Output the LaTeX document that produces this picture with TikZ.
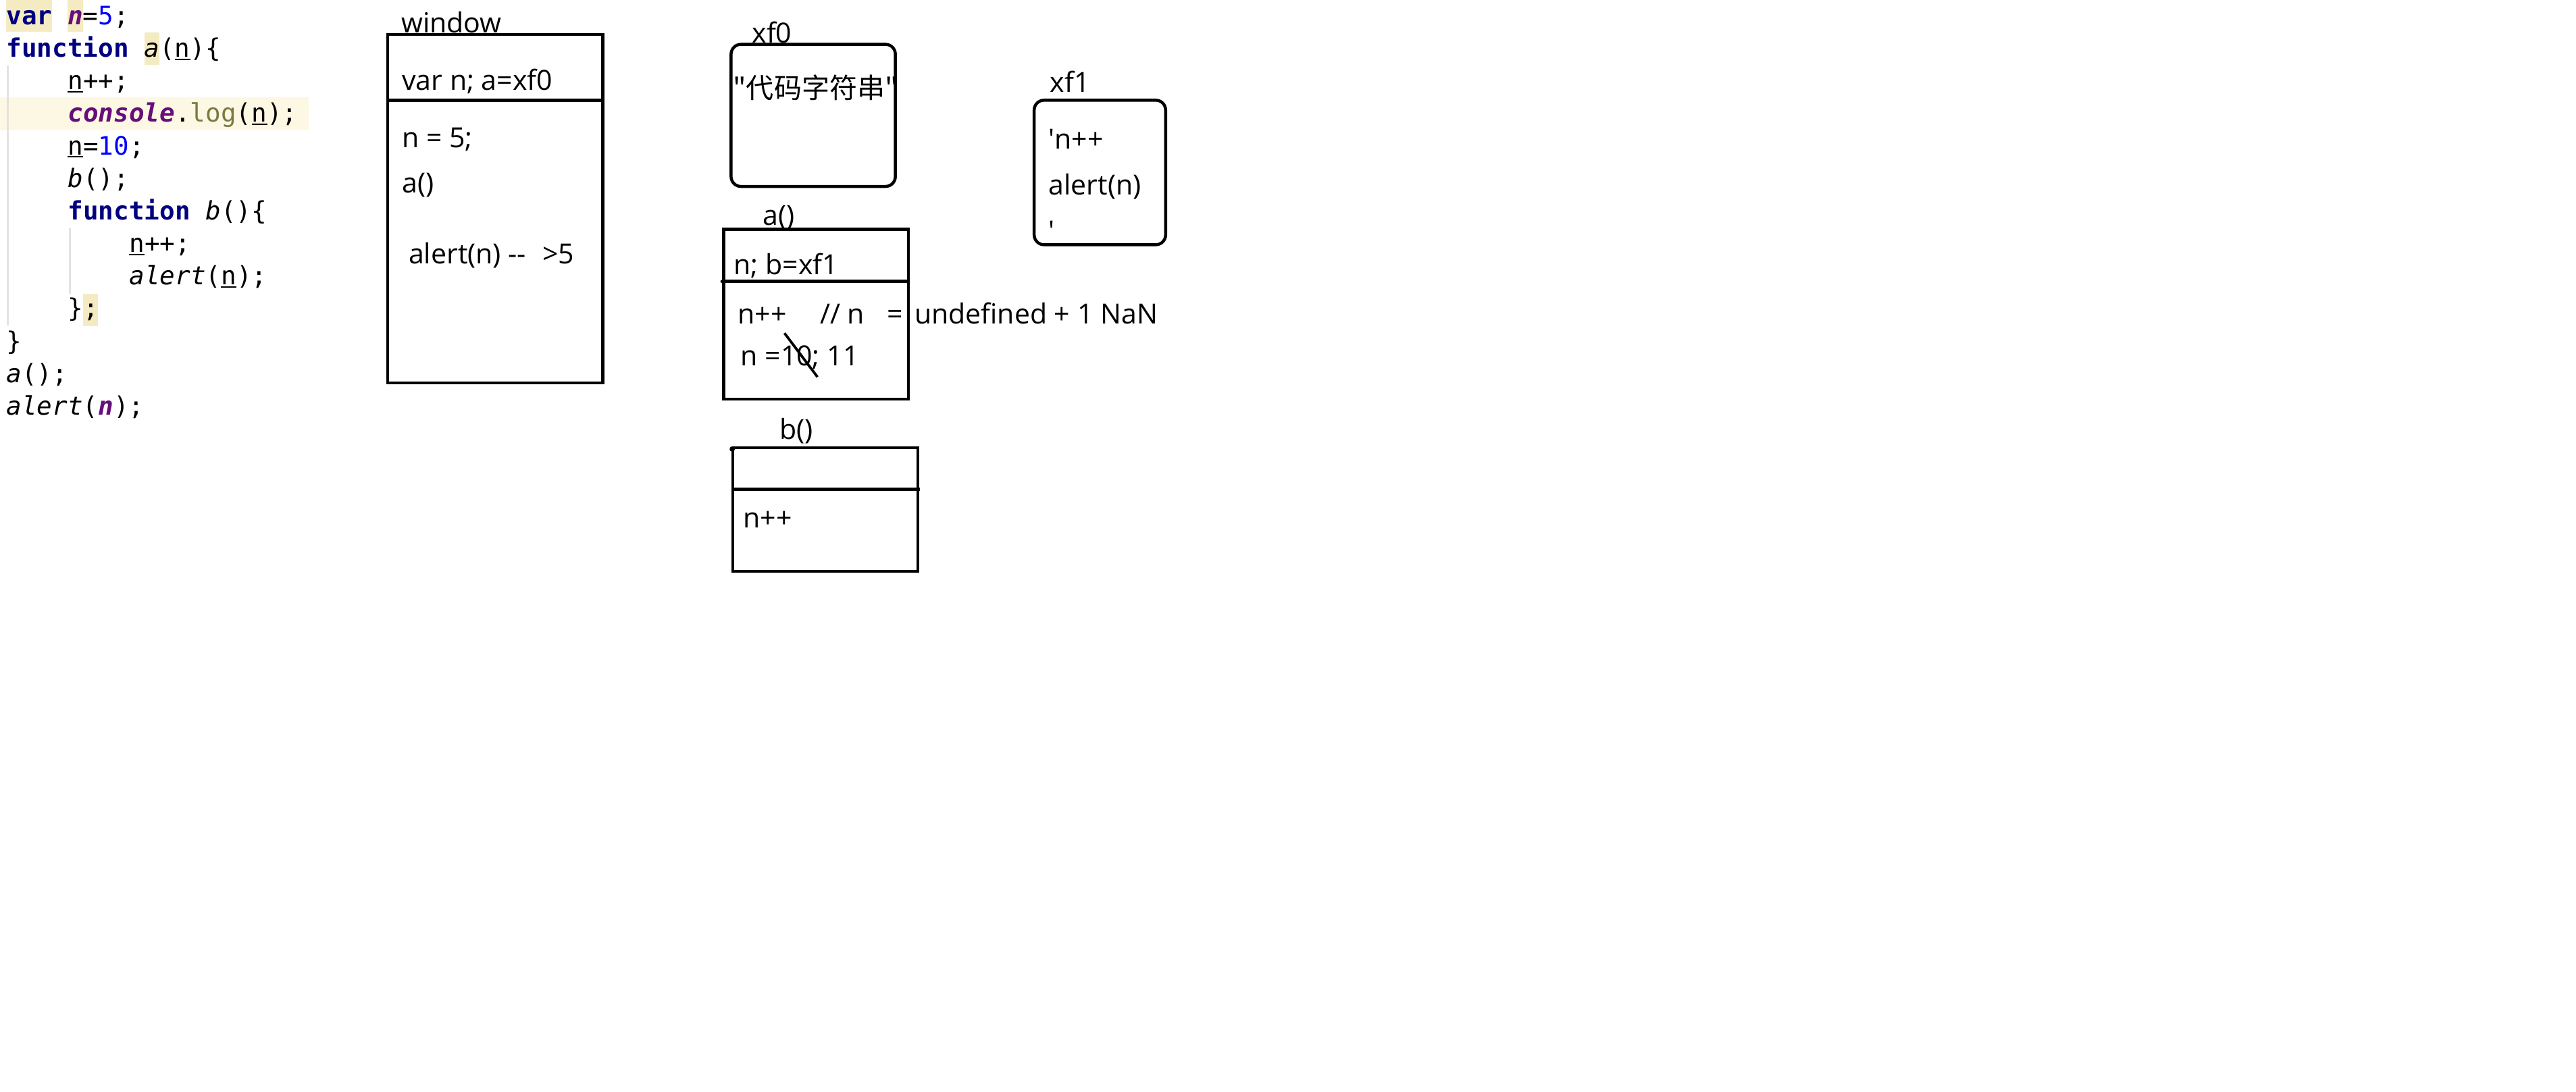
\documentclass[tikz,border=0pt]{standalone}
\usepackage{fontspec}
\setmainfont{Open Sans}
\newfontfamily\cjk{Noto Sans CJK SC}
\newfontfamily\codefont{DejaVu Sans Mono}
\usetikzlibrary{positioning}
\definecolor{KwNavy}{HTML}{000080}
\definecolor{VarPurple}{HTML}{660E7A}
\definecolor{NumBlue}{HTML}{0000FF}
\definecolor{LogOlive}{HTML}{7A7A43}
\definecolor{TokHl}{HTML}{F5EBC3}
\definecolor{LineHl}{HTML}{FDF8E3}
\definecolor{GuideGray}{HTML}{E2E2E2}
\newcommand{\kw}[1]{\textcolor{KwNavy}{\bfseries #1}}
\newcommand{\gvar}[1]{\textcolor{VarPurple}{\bfseries\itshape #1}}
\newcommand{\numc}[1]{\textcolor{NumBlue}{#1}}
\newcommand{\fnm}[1]{\textit{#1}}
\newcommand{\logfn}[1]{\textcolor{LogOlive}{#1}}

\begin{document}
\begin{tikzpicture}[x=0.025cm,y=-0.025cm,
code/.style={anchor=base west,inner sep=0pt,font=\codefont\fontsize{11pt}{13pt}\selectfont},
txt/.style={anchor=base west,inner sep=0pt,font=\fontsize{12pt}{14pt}\selectfont},
box/.style={line width=1.3pt},
memo/.style={box,rounded corners=1.5mm}]
\fill[white](0,0)rectangle(1568,664.4);
\useasboundingbox(0,0)rectangle(1568,664.4);
% code panel
\fill[LineHl](0,59.4)rectangle(188,79.2);
\fill[TokHl](3.7,0)rectangle(31.75,19.5);
\fill[TokHl](41.1,0)rectangle(50.45,19.5);
\fill[TokHl](87.85,19.8)rectangle(97.2,39.4);
\fill[TokHl](50.45,178.8)rectangle(59.8,198.6);
\draw[GuideGray,line width=0.7pt](4.8,39.8)--(4.8,198.3);
\draw[GuideGray,line width=0.7pt](42.5,139)--(42.5,178.8);
\foreach \k/\c/\t in {1/0/{\kw{var} \gvar{n}=\numc{5};},2/0/{\kw{function} \fnm{a}(n)\{},
3/4/{n++;},4/4/{\gvar{console}.\logfn{log}(n);},5/4/{n=\numc{10};},6/4/{\fnm{b}();},
7/4/{\kw{function} \fnm{b}()\{},8/8/{n++;},9/8/{\fnm{alert}(n);},10/4/{\};},
11/0/{\}},12/0/{\fnm{a}();},13/0/{\fnm{alert}(\gvar{n});}}
\node[code](code\k)at({3.7+\c*9.35},{15+19.8*(\k-1)}){\t};
\foreach \k/\c in {2/11,3/4,4/16,5/4,8/8,9/14}
\draw[line width=0.5pt]({3.7+\c*9.35},{16.3+19.8*(\k-1)})--++(9.35,0);
% window
\draw[box](236,21)rectangle(367,233);
\draw[box](236,61)--(367,61);
\node[txt](winlbl)at(244,20){window};
\node[txt](windecl)at(244.5,55){var n; a=xf0};
\node[txt](winset)at(244.5,90){n = 5;};
\node[txt](wincall)at(244.5,117.5){a()};
\node[txt](winout)at(248.5,160.5){alert(n) -{}- \,\,>5};
% xf0 and xf1
\draw[memo](445,27)rectangle(545,113.5);
\node[txt](xfzlbl)at(457.5,26){xf0};
\node[txt](xfzstr)at(446,60){\cjk "代码字符串"};
\draw[memo](629.5,61)rectangle(709.5,149);
\node[txt](xfolbl)at(639,56){xf1};
\node[txt](xfoa)at(638,90.5){\textquotesingle n++};
\node[txt](xfob)at(638,118.5){alert(n)};
\node[txt](xfoc)at(638,146.5){\textquotesingle};
% a()
\draw[box](440.5,139.5)rectangle(553,243);
\draw[box](439.5,171.3)--(553,171.3);
\fill(439.5,171.3)circle(1);
\node[txt](alabel)at(464,137){a()};
\node[txt](adecl)at(446.5,167){n; b=xf1};
\node[txt](ainc)at(448.8,197.3){n++};
\node[txt](acmt)at(498.9,197.3){// n};
\node[txt](aeq)at(539.7,197.3){=};
\node[txt](aval)at(556.4,197.3){undefined + 1 NaN};
\node[txt](aset)at(450.6,222.6){n =10; 11};
\draw[line width=1.1pt](477.5,202.8)--(497.6,229.5);
% b()
\draw[box](446,272.5)rectangle(558.8,347.8);
\draw[box](446,297.8)--(559.8,297.8);
\fill(445.7,273.4)circle(1.6);
\node[txt](blabel)at(474.2,267.3){b()};
\node[txt](binc)at(452.2,321.4){n++};
\end{tikzpicture}
\end{document}
